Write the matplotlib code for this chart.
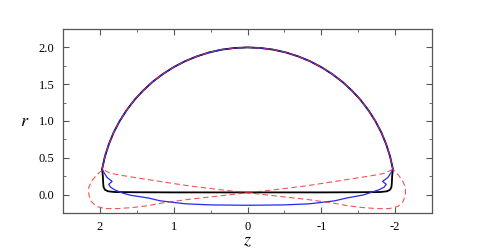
import matplotlib
matplotlib.use('Agg')
import matplotlib.pyplot as plt
from matplotlib.ticker import MultipleLocator, FixedLocator

plt.rcParams['font.family'] = ['Liberation Serif', 'DejaVu Serif']
plt.rcParams['mathtext.fontset'] = 'stix'
plt.rcParams['axes.unicode_minus'] = False

# ── upper arc shared by the three shapes ─────────────────────────────────────
arc_z = [1.970, 1.932, 1.879, 1.813, 1.732, 1.638, 1.532, 1.414, 1.286,
         1.147, 1.000, 0.845, 0.684, 0.518, 0.347, 0.174, 0.000, -0.174,
         -0.347, -0.518, -0.684, -0.845, -1.000, -1.147, -1.286, -1.414,
         -1.532, -1.638, -1.732, -1.813, -1.879, -1.932, -1.970]
arc_r = [0.347, 0.518, 0.684, 0.845, 1.000, 1.147, 1.286, 1.414, 1.532,
         1.638, 1.732, 1.813, 1.879, 1.932, 1.970, 1.992, 2.000, 1.992,
         1.970, 1.932, 1.879, 1.813, 1.732, 1.638, 1.532, 1.414,
         1.286, 1.147, 1.000, 0.845, 0.684, 0.518, 0.347]

# black: flat bottom with rounded corners (right -> left)
black_bot_z = [-1.96, -1.955, -1.95, -1.93, -1.89, -1.80, -1.50, -1.00, 0.00,
               1.00, 1.50, 1.80, 1.89, 1.93, 1.95, 1.955, 1.96, 1.97]
black_bot_r = [0.25, 0.15, 0.10, 0.065, 0.045, 0.035, 0.032, 0.03, 0.03,
               0.03, 0.032, 0.035, 0.045, 0.065, 0.10, 0.15, 0.25, 0.347]

# blue: sagging bottom with a small kink near each end (right -> left)
blue_bot_z = [-1.94, -1.90, -1.83, -1.88, -1.85, -1.78, -1.66, -1.57, -1.35,
              -1.18, -0.84, -0.50, 0.00, 0.50, 0.84, 1.18, 1.35, 1.58, 1.69,
              1.80, 1.855, 1.88, 1.835, 1.90, 1.94, 1.97]
blue_bot_r = [0.29, 0.23, 0.18, 0.14, 0.10, 0.065, 0.025, -0.005, -0.045,
              -0.085, -0.125, -0.14, -0.145, -0.14, -0.125, -0.085, -0.045,
              -0.01, 0.02, 0.065, 0.10, 0.14, 0.18, 0.23, 0.29, 0.347]

# red dashed: right loop -> diagonal -> left loop -> diagonal
red_tail_z = [-2.04, -2.10, -2.14, -2.14, -2.11, -2.04, -1.92, -1.75, -1.55,
              -1.35, -1.13, -0.80, -0.40, 0.00, 0.40, 0.80, 1.13, 1.45, 1.70,
              1.86, 1.96,
              2.04, 2.11, 2.15, 2.15, 2.12, 2.05, 1.93, 1.75, 1.55, 1.35,
              1.13, 0.80, 0.40, 0.00, -0.40, -0.80, -1.13, -1.45, -1.70,
              -1.86, -1.96]
red_tail_r = [0.27, 0.19, 0.10, 0.00, -0.09, -0.16, -0.19, -0.19, -0.175,
              -0.15, -0.11, -0.065, -0.02, 0.025, 0.07, 0.12, 0.17, 0.22, 0.26,
              0.29, 0.34,
              0.27, 0.19, 0.10, 0.00, -0.09, -0.16, -0.19, -0.19, -0.175, -0.15,
              -0.11, -0.065, -0.02, 0.025, 0.07, 0.12, 0.17, 0.22, 0.26,
              0.29, 0.34]

x_ticks = [2, 1, 0, -1, -2]
x_labels = ['2', '1', '0', '-1', '-2']
y_ticks = [0.0, 0.5, 1.0, 1.5, 2.0]
y_labels = ['0.0', '0.5', '1.0', '1.5', '2.0']

fig = plt.figure(figsize=(4.94, 2.48), dpi=100)
ax = fig.add_axes([63 / 494, 35 / 248, 369 / 494, 184 / 248])

ax.plot(arc_z + black_bot_z, arc_r + black_bot_r, color='black', lw=1.3)
ax.plot(arc_z + blue_bot_z, arc_r + blue_bot_r, color='#2828f0', lw=0.9)
ax.plot(arc_z + red_tail_z, arc_r + red_tail_r, color='#ee2a2a', lw=0.8,
        dashes=(5, 3), alpha=0.8)

ax.set_xlim(2.5, -2.5)
ax.set_ylim(-0.25, 2.25)

ax.xaxis.set_major_locator(FixedLocator(x_ticks))
ax.set_xticklabels(x_labels)
ax.xaxis.set_minor_locator(MultipleLocator(0.5))
ax.yaxis.set_major_locator(FixedLocator(y_ticks))
ax.set_yticklabels(y_labels)
ax.yaxis.set_minor_locator(MultipleLocator(0.25))

ax.tick_params(which='both', direction='in', top=True, right=True,
               color='#555555', labelsize=9, pad=6)
ax.tick_params(which='major', length=4, width=0.8)
ax.tick_params(which='minor', length=2, width=0.6)
for sp in ax.spines.values():
    sp.set_color('#555555')
    sp.set_linewidth(0.9)

ax.set_xlabel('$z$', fontsize=13, labelpad=-1)
ax.set_ylabel('$r$', fontsize=13, labelpad=10, rotation=0, va='center')

fig.savefig('out.png', dpi=100)
